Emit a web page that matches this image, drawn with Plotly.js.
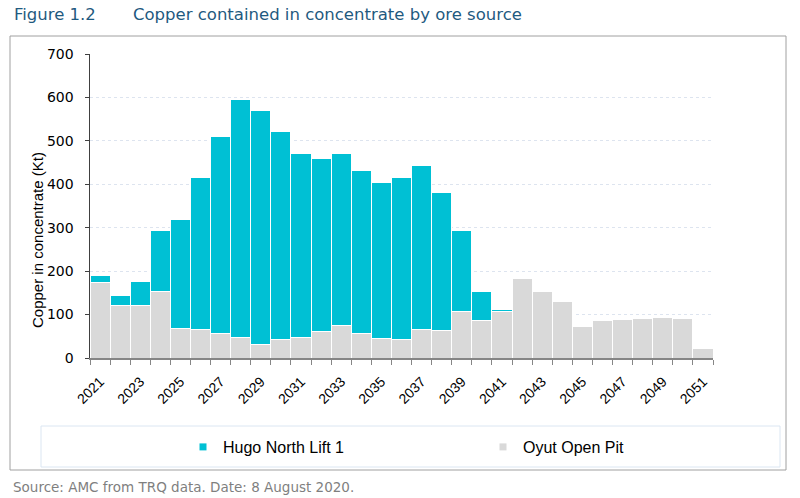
<!DOCTYPE html>
<html><head><meta charset="utf-8">
<script src="https://cdn.plot.ly/plotly-3.0.1.min.js"></script>
<style>html,body{margin:0;padding:0;background:#fff;}#chart{width:800px;height:498px;}</style>
</head><body><div id="chart"></div>
<script>
const years = [2021,2022,2023,2024,2025,2026,2027,2028,2029,2030,2031,2032,2033,2034,2035,2036,2037,2038,2039,2040,2041,2042,2043,2044,2045,2046,2047,2048,2049,2050,2051];
const oyutOpenPit = [175,122,122,152,69,66,57,48,31,42,48,60,75,57,45,42,66,64,107,87,107,182,152,130,72,86,88,92,94,92,23];
const hugoNorthLift1 = [14,22,55,141,251,349,452,548,538,479,423,399,396,375,358,373,378,318,186,67,4,0,0,0,0,0,0,0,0,0,0];
const tickYears = [2021,2023,2025,2027,2029,2031,2033,2035,2037,2039,2041,2043,2045,2047,2049,2051];
const yTicks = [0,100,200,300,400,500,600,700];

const L = 90, R = 713, T = 54, B = 358;
const W = 800, H = 498;
const px = x => (x - L) / (R - L);
const py = y => (B - y) / (B - T);
const SANS = 'Liberation Sans, Arial, sans-serif';
const VERD = 'DejaVu Sans, Verdana, sans-serif';

const traces = [
  {type:'bar', name:'Oyut Open Pit', x:years, y:oyutOpenPit, marker:{color:'#d9d9d9', line:{color:'#ffffff', width:1}}, showlegend:false},
  {type:'bar', name:'Hugo North Lift 1', x:years, y:hugoNorthLift1, marker:{color:'#00c0d4', line:{color:'#ffffff', width:1}}, showlegend:false},
  {type:'scatter', mode:'markers', name:'Hugo North Lift 1', x:[null], y:[null], marker:{symbol:'square', size:7, color:'#00c0d4'}, legend:'legend'},
  {type:'scatter', mode:'markers', name:'Oyut Open Pit', x:[null], y:[null], marker:{symbol:'square', size:7, color:'#d9d9d9'}, legend:'legend2'}
];

const legStyle = (xpx) => ({orientation:'h', x:px(xpx), y:py(447), xanchor:'left', yanchor:'middle',
    font:{family:SANS, size:16, color:'#000'}, bgcolor:'rgba(0,0,0,0)', itemwidth:30});

const layout = {
  width:W, height:H,
  margin:{l:L, r:W-R, t:T, b:H-B, pad:0},
  paper_bgcolor:'#ffffff', plot_bgcolor:'#ffffff',
  barmode:'stack', bargap:0,
  showlegend:true,
  legend:legStyle(183),
  legend2:legStyle(483),
  xaxis:{type:'linear', range:[2020.5, 2051.5], tickmode:'array', tickvals:tickYears, ticktext:tickYears.map(String),
    tickangle:-45, ticks:'', showgrid:false, zeroline:false, ticklabelstandoff:8,
    showline:true, linecolor:'#868686', linewidth:2,
    tickfont:{family:SANS, size:14, color:'#000'},
    minor:{tick0:2020.5, dtick:1, ticks:'outside', ticklen:5, tickcolor:'#868686', tickwidth:1, showgrid:false}},
  yaxis:{range:[0,700], tickvals:yTicks, ticks:'outside', ticklen:4, tickcolor:'#404040', ticklabelstandoff:8,
    showline:true, linecolor:'#404040', linewidth:1.5,
    gridcolor:'#dde4ef', griddash:'dot', gridwidth:1, zeroline:false,
    tickfont:{family:VERD, size:14, color:'#000'}},
  shapes:[
    {type:'rect', xref:'paper', yref:'paper', x0:px(10), x1:px(786), y0:py(36), y1:py(470), line:{color:'#a0a0a0', width:1}, fillcolor:'rgba(0,0,0,0)', layer:'below'},
    {type:'rect', xref:'paper', yref:'paper', x0:px(41), x1:px(780), y0:py(426), y1:py(467), line:{color:'#dbe6f2', width:1}, fillcolor:'rgba(0,0,0,0)', layer:'below'}
  ],
  annotations:[
    {xref:'paper', yref:'paper', x:px(12), y:py(14), xanchor:'left', yanchor:'middle', showarrow:false,
     text:'Figure 1.2', font:{family:VERD, size:16.5, color:'#1f5a80'}},
    {xref:'paper', yref:'paper', x:px(131), y:py(14), xanchor:'left', yanchor:'middle', showarrow:false,
     text:'Copper contained in concentrate by ore source', font:{family:VERD, size:16.5, color:'#1f5a80'}},
    {xref:'paper', yref:'paper', x:px(37), y:py(240), xanchor:'center', yanchor:'middle', showarrow:false, textangle:-90,
     text:'Copper in concentrate (Kt)', font:{family:SANS, size:15, color:'#000'}},
    {xref:'paper', yref:'paper', x:px(11), y:py(487), xanchor:'left', yanchor:'middle', showarrow:false,
     text:'Source: AMC from TRQ data. Date: 8 August 2020.',
     font:{family:VERD, size:13.5, color:'#7f7f7f'}}
  ]
};
Plotly.newPlot('chart', traces, layout, {displayModeBar:false, staticPlot:true});
</script></body></html>
